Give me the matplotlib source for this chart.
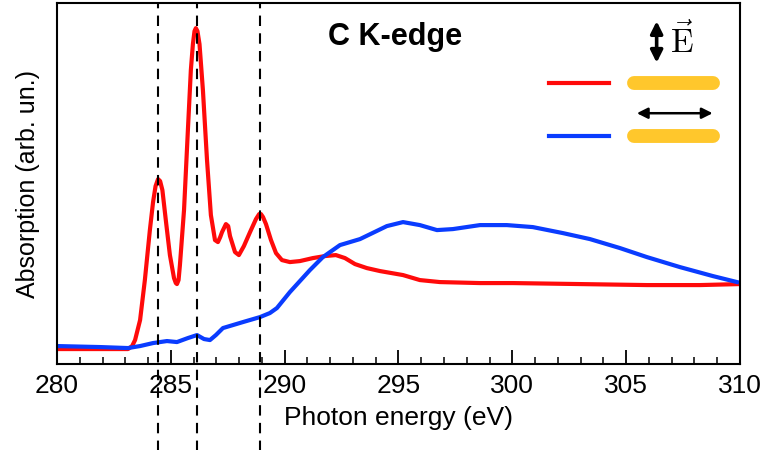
import matplotlib.pyplot as plt
from matplotlib.ticker import MultipleLocator

# C K-edge NEXAFS
energy_red = [280.00, 281.89, 283.12, 283.30, 283.43, 283.65, 283.86, 284.08, 284.22, 284.33,
              284.44, 284.53, 284.63, 284.79, 284.96, 285.14, 285.22, 285.27, 285.34, 285.40,
              285.58, 285.75, 285.88, 285.97, 286.04, 286.10, 286.17, 286.26, 286.41, 286.59,
              286.76, 286.94, 287.07, 287.17, 287.25, 287.42, 287.52, 287.60, 287.82, 287.99,
              288.21, 288.48, 288.74, 288.88, 288.96, 289.05, 289.18, 289.40, 289.62, 289.88,
              290.23, 290.67, 291.24, 291.77, 292.25, 292.65, 293.09, 293.61, 294.19, 295.20,
              295.94, 296.82, 298.58, 300.03, 302.97, 305.91, 308.24, 310.00]
absorb_red = [0.15, 0.15, 0.15, 0.18, 0.24, 0.44, 0.84, 1.34, 1.62, 1.78,
              1.85, 1.83, 1.74, 1.42, 1.09, 0.86, 0.81, 0.80, 0.84, 0.99,
              1.54, 2.34, 2.94, 3.20, 3.33, 3.36, 3.33, 3.20, 2.74, 2.04,
              1.49, 1.24, 1.22, 1.27, 1.32, 1.40, 1.38, 1.28, 1.12, 1.09,
              1.18, 1.32, 1.45, 1.50, 1.50, 1.47, 1.40, 1.24, 1.11, 1.04,
              1.02, 1.03, 1.06, 1.08, 1.09, 1.06, 1.00, 0.96, 0.93, 0.89,
              0.84, 0.82, 0.81, 0.81, 0.80, 0.79, 0.79, 0.80]

energy_blue = [280.00, 281.89, 283.12, 283.65, 284.22, 284.83, 285.27, 285.75, 286.15,
               286.46, 286.72, 286.98, 287.29, 287.73, 288.17, 288.92, 289.35, 289.66,
               290.23, 290.67, 291.11, 291.68, 292.43, 293.31, 294.49, 295.20, 295.94,
               296.69, 297.39, 298.58, 299.76, 300.90, 302.22, 303.41, 304.73, 305.91,
               307.36, 308.81, 309.87]
absorb_blue = [0.18, 0.17, 0.16, 0.18, 0.21, 0.23, 0.22, 0.26, 0.29,
               0.25, 0.24, 0.29, 0.36, 0.39, 0.42, 0.47, 0.51, 0.56,
               0.72, 0.83, 0.94, 1.07, 1.19, 1.25, 1.38, 1.42, 1.39,
               1.34, 1.35, 1.39, 1.39, 1.37, 1.31, 1.25, 1.16, 1.07,
               0.97, 0.88, 0.82]

peak_positions = [284.45, 286.15, 288.9]

RED = "#FF0A0A"
BLUE = "#0A3CFF"
GOLD = "#FFC72C"

plt.rcParams["font.family"] = ["Liberation Sans", "DejaVu Sans"]

fig = plt.figure(figsize=(7.68, 4.5), dpi=100)
ax = fig.add_axes([0.0742, 0.191, 0.8893, 0.802])

ax.plot(energy_red, absorb_red, color=RED, lw=3, solid_joinstyle="round")
ax.plot(energy_blue, absorb_blue, color=BLUE, lw=3, solid_joinstyle="round")

# dashed markers run down past the tick labels
for e in peak_positions:
    ax.axvline(e, ymin=-0.24, ymax=1, color="black", lw=1.5,
               ls=(0, (5, 3.5)), clip_on=False, zorder=5)

ax.set_xlim(280, 310)
ax.set_ylim(0, 3.61)
ax.xaxis.set_major_locator(MultipleLocator(5))
ax.xaxis.set_minor_locator(MultipleLocator(1))
ax.tick_params(axis="x", which="major", direction="in", length=10, width=1.3,
               labelsize=19, pad=7)
ax.tick_params(axis="x", which="minor", direction="in", length=5, width=1.1)
ax.set_yticks([])
for sp in ax.spines.values():
    sp.set_linewidth(1.5)

ax.set_xlabel("Photon energy (eV)", fontsize=19, labelpad=6)
ax.set_ylabel("Absorption (arb. un.)", fontsize=18, labelpad=12)

ax.text(0.495, 0.905, "C K-edge", transform=ax.transAxes, ha="center", va="center",
        fontsize=22, fontweight="bold")

# polarisation legend
tr = ax.transAxes
ax.plot([0.72, 0.808], [0.78, 0.78], color=RED, lw=3, transform=tr)
ax.plot([0.72, 0.808], [0.633, 0.633], color=BLUE, lw=3, transform=tr)
ax.plot([0.845, 0.961], [0.78, 0.78], color=GOLD, lw=10, solid_capstyle="round", transform=tr)
ax.plot([0.845, 0.961], [0.633, 0.633], color=GOLD, lw=10, solid_capstyle="round", transform=tr)
ax.annotate("", xy=(0.878, 0.835), xytext=(0.878, 0.95), xycoords=tr,
            arrowprops=dict(arrowstyle="<|-|>", color="black", lw=2.6,
                            mutation_scale=18, shrinkA=0, shrinkB=0))
ax.annotate("", xy=(0.849, 0.695), xytext=(0.96, 0.695), xycoords=tr,
            arrowprops=dict(arrowstyle="<|-|>", color="black", lw=1.8,
                            mutation_scale=16, shrinkA=0, shrinkB=0))
ax.text(0.897, 0.895, r"$\vec{\mathrm{E}}$", transform=tr, ha="left", va="center",
        fontsize=24, math_fontfamily="cm")

fig.savefig("out.png", dpi=100)
